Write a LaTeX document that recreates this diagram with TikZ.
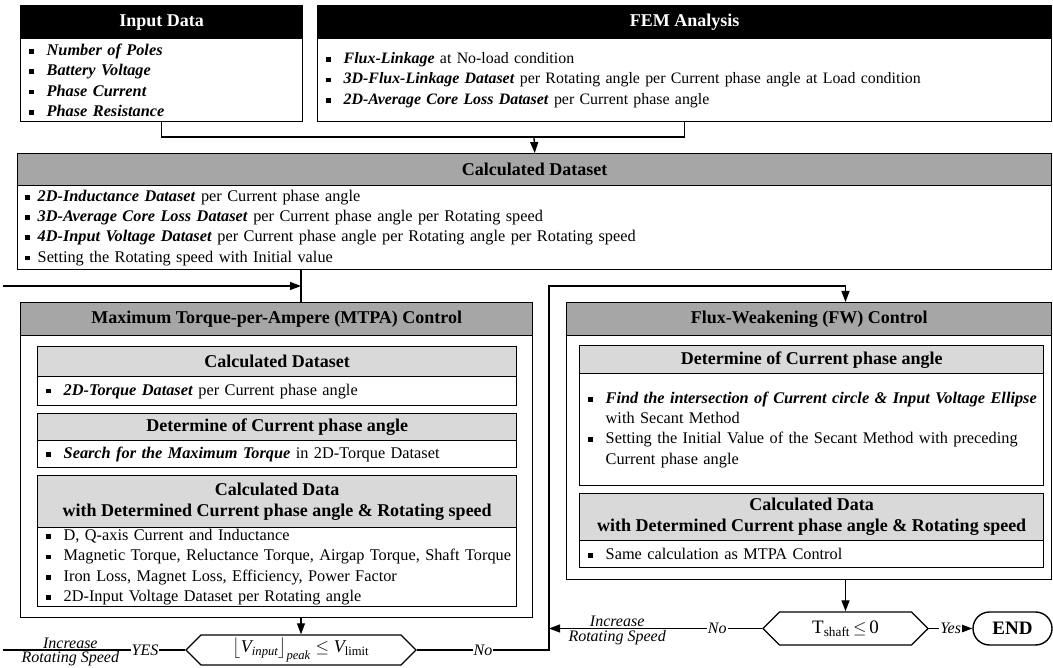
\documentclass[tikz,border=0pt]{standalone}
\usepackage{amsmath}
\usepackage{fontspec}
\setmainfont{Liberation Serif}
\usetikzlibrary{arrows.meta,shapes.symbols,shapes.misc}
\definecolor{darkbar}{HTML}{A6A6A6}
\definecolor{lightbar}{HTML}{D9D9D9}
\newcommand\txfont{\fontsize{16.3}{20.3}\selectfont}
\newcommand\hdfont{\fontsize{18}{21}\selectfont\bfseries}
\newcommand\lbfont{\fontsize{16}{19}\selectfont\itshape}
\newcommand\itm[2][18pt]{\mbox{\makebox[#1][l]{\rule[1.6pt]{4.8pt}{4.8pt}}#2}}
\newcommand\cnt[1]{\mbox{\hspace*{18pt}#1}}
\newcommand\bi[1]{\textbf{\textit{#1}}}

\begin{document}
\begin{tikzpicture}[x=1pt,y=-1pt,
	box/.style={draw,line width=1.4pt,inner sep=0pt,anchor=north west},
	topbar/.style={box,fill=black,text=white,font=\hdfont},
	midbar/.style={box,fill=darkbar,font=\hdfont},
	subbar/.style={box,fill=lightbar,font=\hdfont,align=center},
	body/.style={box,fill=white,font=\txfont,align=left,inner xsep=8pt},
	hexa/.style={signal,signal to=east and west,draw,line width=1.4pt,inner sep=0pt,fill=white},
	endbox/.style={rounded rectangle,draw,line width=1.4pt,inner sep=0pt,font=\fontsize{19}{22}\selectfont\bfseries},
	lbl/.style={font=\lbfont,fill=white,inner sep=1pt},
	side/.style={font=\lbfont,inner sep=1pt},
	arr/.style={-{Triangle[length=11pt,width=8pt]}},
	every path/.style={line width=1.3pt}]
	\useasboundingbox (0,0) rectangle (1053,668);

	\node[topbar,minimum width=282pt,minimum height=33pt] (inhd) at (20,5) {Input Data};
	\node[body,text width=266pt,minimum height=83pt] (inbd) at (20,38)
		{\itm{\bi{Number of Poles}}\\ \itm{\bi{Battery Voltage}}\\ \itm{\bi{Phase Current}}\\ \itm{\bi{Phase Resistance}}};
	\node[topbar,minimum width=734pt,minimum height=33pt] (femhd) at (317,5) {FEM Analysis};
	\node[body,text width=718pt,minimum height=83pt,font=\fontsize{15.9}{20.3}\selectfont] (fembd) at (317,38)
		{\itm{\bi{Flux-Linkage} at No-load condition}\\
		 \itm{\bi{3D-Flux-Linkage Dataset} per Rotating angle per Current phase angle at Load condition}\\
		 \itm{\bi{2D-Average Core Loss Dataset} per Current phase angle}};

	\node[midbar,minimum width=1034pt,minimum height=32pt] (cdhd) at (17,153) {Calculated Dataset};
	\node[body,text width=1020pt,minimum height=84pt,inner xsep=7pt] (cdbd) at (17,185)
		{\itm[13pt]{\bi{2D-Inductance Dataset} per Current phase angle}\\
		 \itm[13pt]{\bi{3D-Average Core Loss Dataset} per Current phase angle per Rotating speed}\\
		 \itm[13pt]{\bi{4D-Input Voltage Dataset} per Current phase angle per Rotating angle per Rotating speed}\\
		 \itm[13pt]{Setting the Rotating speed with Initial value}};

	\node[box,minimum width=512pt,minimum height=315pt] (mtpa) at (20,302) {};
	\node[midbar,minimum width=512pt,minimum height=33pt] (mtpahd) at (20,302) {Maximum Torque-per-Ampere (MTPA) Control};
	\node[subbar,minimum width=479pt,minimum height=30pt] (m1hd) at (37,346) {Calculated Dataset};
	\node[body,text width=463pt,minimum height=29pt] (m1bd) at (37,376)
		{\itm{\bi{2D-Torque Dataset} per Current phase angle}};
	\node[subbar,minimum width=479pt,minimum height=27pt] (m2hd) at (37,413) {Determine of Current phase angle};
	\node[body,text width=463pt,minimum height=27pt] (m2bd) at (37,440)
		{\itm{\bi{Search for the Maximum Torque} in 2D-Torque Dataset}};
	\node[subbar,minimum width=479pt,minimum height=52pt] (m3hd) at (37,475)
		{Calculated Data\\with Determined Current phase angle \& Rotating speed};
	\node[body,text width=463pt,minimum height=79pt] (m3bd) at (37,527)
		{\itm{D, Q-axis Current and Inductance}\\
		 \itm{Magnetic Torque, Reluctance Torque, Airgap Torque, Shaft Torque}\\
		 \itm{Iron Loss, Magnet Loss, Efficiency, Power Factor}\\
		 \itm{2D-Input Voltage Dataset per Rotating angle}};

	\node[box,minimum width=485pt,minimum height=277pt] (fw) at (566,302) {};
	\node[midbar,minimum width=485pt,minimum height=33pt] (fwhd) at (566,302) {Flux-Weakening (FW) Control};
	\node[subbar,minimum width=464pt,minimum height=28pt] (f1hd) at (579,345) {Determine of Current phase angle};
	\node[body,text width=448pt,minimum height=112pt] (f1bd) at (579,373)
		{\itm{\bi{Find the intersection of Current circle \& Input Voltage Ellipse}}\\
		 \cnt{with Secant Method}\\
		 \itm{Setting the Initial Value of the Secant Method with preceding}\\
		 \cnt{Current phase angle}};
	\node[subbar,minimum width=464pt,minimum height=47pt] (f2hd) at (579,493)
		{Calculated Data\\with Determined Current phase angle \& Rotating speed};
	\node[body,text width=448pt,minimum height=27pt] (f2bd) at (579,540)
		{\itm{Same calculation as MTPA Control}};

	\node[hexa,minimum width=230pt,minimum height=30pt] (dec1) at (301,650)
		{\fontsize{18}{20}\selectfont$\left\lfloor\textit{V}_{\textit{input}}\right\rfloor_{\textit{peak}}\le\textit{V}_{\text{limit}}$};
	\node[hexa,minimum width=165pt,minimum height=33pt] (dec2) at (845.5,628.5)
		{\fontsize{19}{22}\selectfont T\textsubscript{shaft}$\,\le\,$0};
	\node[endbox,minimum width=79pt,minimum height=33pt] (fin) at (1012.5,628.5) {END};

	\coordinate (jn) at (534,137);
	\coordinate (lin) at (3,286);
	\coordinate (lout) at (3,650);
	\coordinate (rx) at (549,286);

	\draw (inbd.south) |- (jn) -| (fembd.south);
	\draw[arr] (jn) -- (cdhd.north);
	\draw (cdbd.south -| dec1.north) -- (mtpahd.north -| dec1.north);
	\draw[arr] (lin) -- (lin -| dec1.north);
	\draw[arr] (mtpa.south -| dec1.north) -- (dec1.north);
	\draw (dec1.west) -- node[lbl,pos=.22] {YES}
		node[side,above,pos=.63] {Increase} node[side,below,pos=.63] {Rotating Speed} (dec1.west -| lout);
	\draw[arr] (dec1.east) -- node[lbl] {No} (dec1.east -| rx) -- (rx) -- (rx -| dec2.north) -- (fwhd.north -| dec2.north);
	\draw[arr] (fw.south -| dec2.north) -- (dec2.north);
	\draw[arr] (dec2.west) -- node[lbl,pos=.21] {No}
		node[side,above,pos=.68] {Increase} node[side,below,pos=.68] {Rotating Speed} (dec2.west -| rx);
	\draw[arr] (dec2.east) -- node[lbl] {Yes} (fin.west);
\end{tikzpicture}
\end{document}
